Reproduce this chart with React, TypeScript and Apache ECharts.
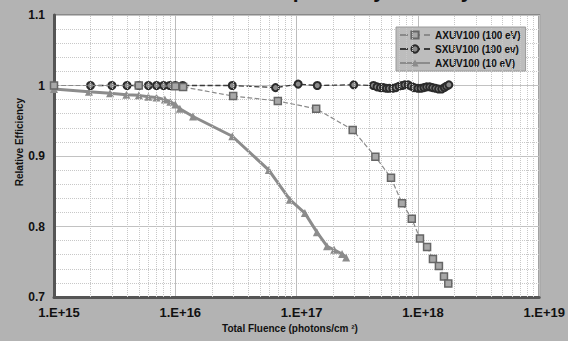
import React, { useEffect, useRef } from "react";
import * as echarts from "echarts";

// ---- data ----
const axuv100eVFluence = [1e15, 5e15, 1e16, 1.16e16, 3.0e16, 7.0e16, 1.45e17, 2.9e17, 4.46e17, 6.0e17, 7.4e17, 8.9e17, 1.04e18, 1.19e18, 1.33e18, 1.49e18, 1.64e18, 1.78e18];
const axuv100eVEff = [1.0, 1.0, 0.999, 0.998, 0.985, 0.978, 0.967, 0.937, 0.899, 0.869, 0.833, 0.811, 0.783, 0.771, 0.754, 0.744, 0.729, 0.719];

const sxuv100eVFluence = [2e15, 3e15, 4e15, 5e15, 6e15, 7e15, 8e15, 9e15, 1e16, 1.15e16, 2.95e16, 6.7e16, 1.03e17, 1.48e17, 2.96e17,
  4.3e17, 4.6e17, 4.9e17, 5.2e17, 5.5e17, 5.8e17, 6.2e17, 6.6e17, 7.0e17, 7.4e17, 7.8e17, 8.3e17, 8.8e17, 9.3e17,
  1.0e18, 1.06e18, 1.12e18, 1.18e18, 1.25e18, 1.32e18, 1.4e18, 1.48e18, 1.57e18, 1.65e18, 1.72e18, 1.8e18];
const sxuv100eVEff = [1.0, 1.0, 1.0, 1.0, 1.0, 1.0, 1.0, 1.0, 1.0, 1.0, 1.0, 0.997, 1.002, 1.0, 1.001,
  1.0, 0.998, 0.997, 0.997, 0.996, 0.996, 0.996, 0.997, 0.999, 1.0, 1.001, 1.001, 0.999, 0.997,
  0.996, 0.996, 0.997, 0.998, 0.998, 0.997, 0.996, 0.995, 0.995, 0.997, 0.999, 1.001];

const axuv10eVFluence = [1e15, 1.94e15, 2.9e15, 3.95e15, 5.0e15, 6.0e15, 7.0e15, 8.2e15, 9.1e15, 1.0e16, 1.09e16, 1.4e16, 2.95e16, 5.9e16, 8.8e16, 1.17e17, 1.47e17, 1.78e17, 2.04e17, 2.37e17, 2.56e17];
const axuv10eVEff = [0.995, 0.991, 0.989, 0.987, 0.986, 0.984, 0.983, 0.98, 0.977, 0.973, 0.967, 0.956, 0.928, 0.88, 0.838, 0.819, 0.792, 0.772, 0.767, 0.761, 0.756];

const seriesNames = ["AXUV100 (100 eV)", "SXUV100 (100 ev)", "AXUV100 (10 eV)"];
const xTickExponents = [15, 16, 17, 18, 19];
const xTickLabels = ["1.E+15", "1.E+16", "1.E+17", "1.E+18", "1.E+19"];
const minorDecades = [15, 16, 17, 18];
const minorMultipliers = [2, 3, 4, 5, 6, 7, 8, 9];

const titleText = "Photodiode Responsivity Stability";
const xAxisTitle = "Total Fluence (photons/cm \u00B2)";
const yAxisTitle = "Relative Efficiency";

const FONT = "'Liberation Sans', Arial, sans-serif";

const zip = (xs: number[], ys: number[]) => xs.map((x, i) => [x, ys[i]]);

export default function App() {
  const ref = useRef<HTMLDivElement>(null);
  useEffect(() => {
    document.body.style.margin = "0";
    if (!ref.current) return;
    const chart = echarts.init(ref.current, undefined, { renderer: "svg" });
    const minorLines: any[] = [];
    minorDecades.forEach((d) => minorMultipliers.forEach((m) => minorLines.push({ xAxis: m * Math.pow(10, d) })));

    chart.setOption({
      animation: false,
      backgroundColor: "#b3b3b3",
      grid: {
        left: 54, right: 19, top: 15, bottom: 44,
        show: true, backgroundColor: "#ffffff", borderColor: "#8a8a8a", borderWidth: 2,
      },
      legend: {
        data: seriesNames,
        orient: "vertical",
        left: 396, top: 27,
        backgroundColor: "#bdbdbd",
        borderColor: "#9a9a9a", borderWidth: 1,
        padding: [3, 5, 3, 3],
        itemWidth: 30, itemHeight: 9, itemGap: 4,
        textStyle: { fontFamily: FONT, fontWeight: "bold", fontSize: 10, color: "#111" },
      },
      xAxis: {
        type: "log", logBase: 10, min: 1e15, max: 1e19, splitNumber: 4,
        axisLine: { show: true, lineStyle: { color: "#555", width: 3 } },
        axisTick: { show: false },
        axisLabel: {
          margin: 9, padding: [0, 0, 0, 10],
          fontFamily: FONT, fontWeight: "bold", fontSize: 13, color: "#111",
          formatter: (v: number) => {
            const i = xTickExponents.indexOf(Math.round(Math.log10(v)));
            return i >= 0 ? xTickLabels[i] : "";
          },
        },
        splitLine: { show: true, lineStyle: { color: "#bdbdbd", width: 1 } },
      },
      yAxis: {
        type: "value", min: 0.7, max: 1.1, interval: 0.1,
        axisLine: { show: true, lineStyle: { color: "#555", width: 3 } },
        axisTick: { show: false },
        axisLabel: { margin: 9, fontFamily: FONT, fontWeight: "bold", fontSize: 12, color: "#111" },
        splitLine: { show: true, lineStyle: { color: "#c2c2c2", width: 1 } },
        minorTick: { show: false, splitNumber: 5 },
        minorSplitLine: { show: true, lineStyle: { color: "#c8c8c8", type: "dotted", width: 1 } },
      },
      series: [
        {
          name: "minor-grid", type: "line", data: [], z: 1, silent: true,
          markLine: {
            silent: true, symbol: ["none", "none"], label: { show: false },
            lineStyle: { color: "#c8c8c8", type: "dotted", width: 1 },
            data: minorLines,
          },
        },
        {
          name: seriesNames[2], type: "line", data: zip(axuv10eVFluence, axuv10eVEff), z: 3,
          symbol: "triangle", symbolSize: 8,
          lineStyle: { color: "#8c8c8c", width: 3, type: "solid" },
          itemStyle: { color: "#8c8c8c" },
        },
        {
          name: seriesNames[1], type: "line", data: zip(sxuv100eVFluence, sxuv100eVEff), z: 4,
          symbol: "circle", symbolSize: 7,
          lineStyle: { color: "#3a3a3a", width: 1.3, type: "dashed" },
          itemStyle: { color: "#8a8a8a", borderColor: "#2b2b2b", borderWidth: 2 },
        },
        {
          name: seriesNames[0], type: "line", data: zip(axuv100eVFluence, axuv100eVEff), z: 5,
          symbol: "rect", symbolSize: 7,
          lineStyle: { color: "#8a8a8a", width: 1.2, type: "dashed" },
          itemStyle: { color: "#a8a8a8", borderColor: "#666666", borderWidth: 1.5 },
        },
      ],
      graphic: [
        {
          type: "text", x: 133, y: -10, silent: true,
          style: { text: titleText, fill: "#111", font: `bold 21px ${FONT}`, textAlign: "left", textVerticalAlign: "middle" },
        },
        {
          type: "text", x: 290, y: 328, silent: true,
          style: { text: xAxisTitle, fill: "#111", font: `bold 10px ${FONT}`, textAlign: "center", textVerticalAlign: "middle" },
        },
        {
          type: "text", x: 19, y: 142, rotation: Math.PI / 2, silent: true,
          style: { text: yAxisTitle, fill: "#111", font: `bold 10px ${FONT}`, textAlign: "center", textVerticalAlign: "middle" },
        },
      ],
    });
    return () => chart.dispose();
  }, []);
  return <div ref={ref} style={{ position: "fixed", left: 0, top: 0, width: 568, height: 341 }} />;
}
